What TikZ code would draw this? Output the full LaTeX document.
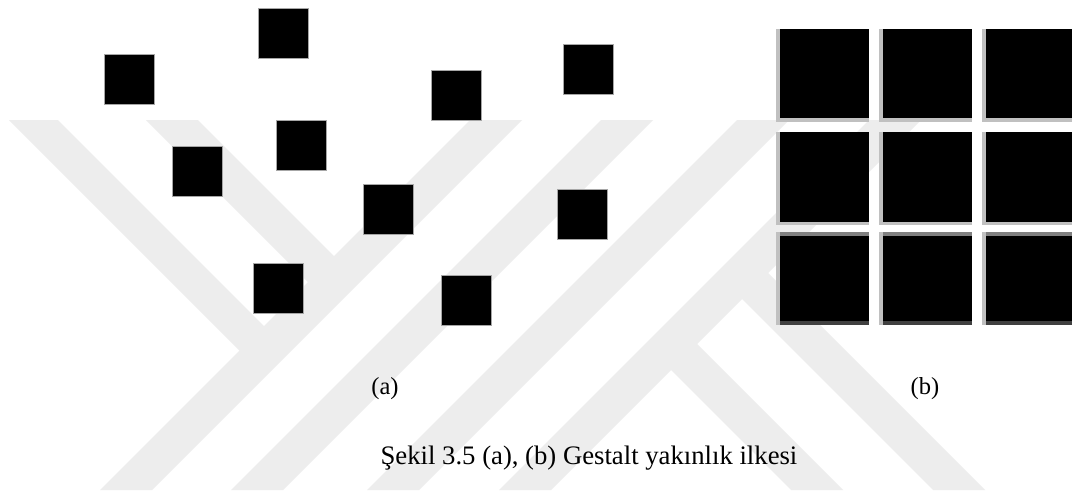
\documentclass[tikz,border=0pt]{standalone}
\usepackage{fontspec}
\setmainfont{Liberation Serif}
\definecolor{wmark}{RGB}{237,237,237}
\definecolor{edgelight}{RGB}{192,192,192}
\definecolor{edgemid}{RGB}{128,128,128}
\definecolor{edgedark}{RGB}{64,64,64}
\begin{document}
\begin{tikzpicture}[x=1pt,y=-1pt,
  mark band/.style={fill=wmark},
  dot square/.style={fill=black,draw=gray!70,line width=0.6pt},
  label text/.style={font=\fontsize{24.5}{29}\selectfont,inner sep=0pt},
  caption text/.style={font=\fontsize{26.7}{32}\selectfont,inner sep=0pt}]
\useasboundingbox (0,0) rectangle (1072,493);
\fill[white] (0,0) rectangle (1072,493);

% light watermark emblem: long "/" strokes with "\" branches
\fill[mark band] (470,120) -- (522,120) -- (152,490) -- (100,490) -- cycle;
\fill[mark band] (601,120) -- (653,120) -- (283,490) -- (231,490) -- cycle;
\fill[mark band] (737,120) -- (789,120) -- (419,490) -- (367,490) -- cycle;
\fill[mark band] (869,120) -- (921,120) -- (551,490) -- (499,490) -- cycle;
\fill[mark band] (146,120) -- (198,120) -- (339,261) -- (313,287) -- cycle;
\fill[mark band] (9,120) -- (58,120) -- (269,331) -- (244.5,355.5) -- cycle;
\fill[mark band] (736.5,293.5) -- (762.5,267.5) -- (985,490) -- (933,490) -- cycle;
\fill[mark band] (665.5,364.5) -- (691.5,338.5) -- (843,490) -- (791,490) -- cycle;

% (a) scattered squares
\foreach \px/\py in {258/8, 104/54, 431/70, 563/44, 276/120,
                     172/146, 363/184, 557/189, 253/263, 441/275}
  \path[dot square] (\px,\py) rectangle ++(50,50);

% (b) 3x3 grid of shaded tiles
\foreach \cx in {780,883,986}{
  % row 1
  \fill[edgelight] (\cx-4,29) rectangle (\cx,122);
  \fill[edgelight] (\cx,118) rectangle (\cx+89,122);
  \fill[black] (\cx,29) rectangle (\cx+89,118);
  % row 2
  \fill[edgelight] (\cx-4,132) rectangle (\cx,225);
  \fill[edgelight] (\cx,222) rectangle (\cx+89,225);
  \fill[black] (\cx,132) rectangle (\cx+89,222);
  % row 3
  \fill[edgelight] (\cx-4,232) rectangle (\cx,325);
  \fill[edgemid] (\cx,232) rectangle (\cx+89,236);
  \fill[black] (\cx,236) rectangle (\cx+89,321);
  \fill[edgedark] (\cx,321) rectangle (\cx+89,325);
}

\node[label text,anchor=base] (la) at (385,394) {(a)};
\node[label text,anchor=base] (lb) at (925,394) {(b)};
\node[caption text,anchor=base] (cap) at (589,464) {Şekil 3.5 (a), (b) Gestalt yakınlık ilkesi};
\end{tikzpicture}
\end{document}
